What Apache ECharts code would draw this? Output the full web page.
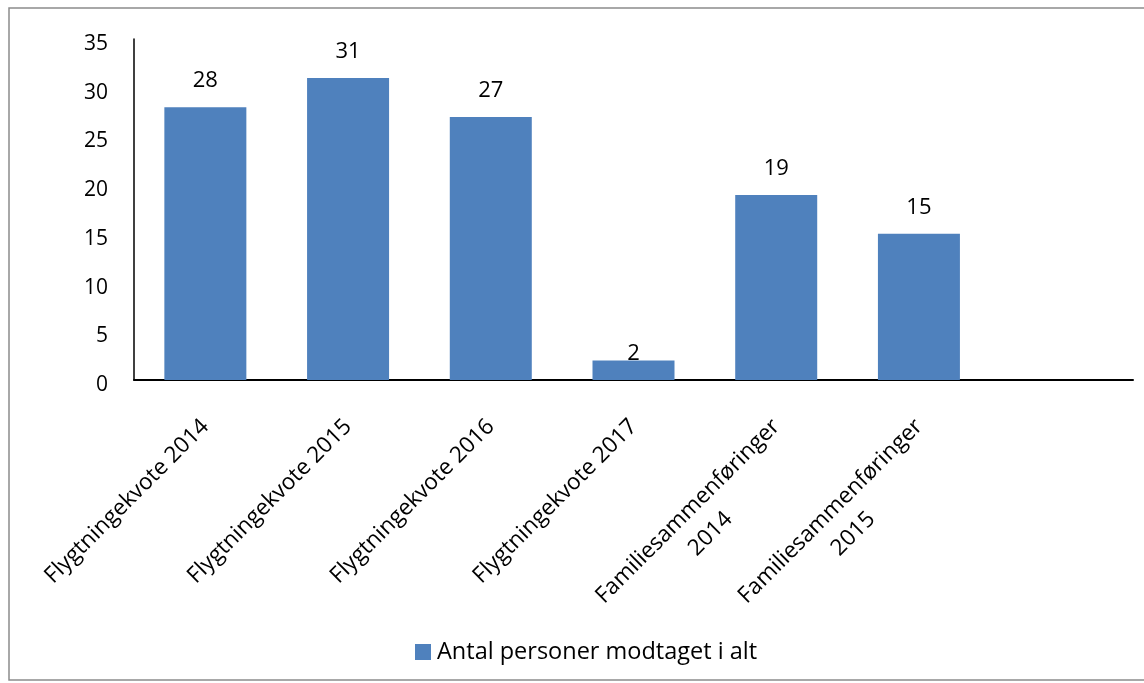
<!DOCTYPE html>
<html>
<head>
<meta charset="utf-8">
<script src="https://cdn.jsdelivr.net/npm/echarts@6/dist/echarts.min.js"></script>
<style>
html,body{margin:0;padding:0;background:#fff;}
#chart{width:1144px;height:683px;}
</style>
</head>
<body>
<div id="chart"></div>
<script>
var categories = ['Flygtningekvote 2014','Flygtningekvote 2015','Flygtningekvote 2016','Flygtningekvote 2017','Familiesammenføringer\n2014','Familiesammenføringer\n2015',''];
var values = [28, 31, 27, 2, 19, 15, null];
var yTicks = [0, 5, 10, 15, 20, 25, 30, 35];
var seriesName = 'Antal personer modtaget i alt';

var FONT = '"Open Sans", "Noto Sans", sans-serif';
var chart = echarts.init(document.getElementById('chart'));

var barData = values.map(function (v, i) {
  var item = { value: v };
  if (v !== null && v < 5) {
    item.label = { distance: -4 };
  }
  return item;
});

chart.setOption({
  animation: false,
  backgroundColor: '#fff',
  graphic: [{
    type: 'rect',
    shape: { x: 9, y: 8, width: 1200, height: 672 },
    style: { fill: 'none', stroke: '#8c8c8c', lineWidth: 1.5 },
    silent: true
  }],
  grid: { left: 134, right: 11, top: 39, bottom: 303, containLabel: false },
  legend: {
    data: [seriesName],
    left: 415, top: 640, padding: 0,
    icon: 'rect', itemWidth: 16, itemHeight: 16, itemGap: 6,
    textStyle: { fontFamily: FONT, fontSize: 23.5, color: '#000', padding: [0, 0, 0, 1] }
  },
  xAxis: {
    type: 'category',
    data: categories,
    axisLine: { lineStyle: { color: '#000', width: 2 } },
    axisTick: { show: false },
    axisLabel: {
      interval: 0,
      rotate: 45,
      margin: 43,
      fontFamily: FONT,
      fontSize: 22.5,
      color: '#000',
      lineHeight: 32,
      formatter: function (val) {
        if (val.indexOf('\n') >= 0) {
          var parts = val.split('\n');
          return '{s|}\n{c|' + parts[0] + '}\n{c|' + parts[1] + '}';
        }
        return val;
      },
      rich: {
        s: { fontSize: 22.5, lineHeight: 32 },
        c: { align: 'center', fontFamily: FONT, fontSize: 22.5, lineHeight: 32, color: '#000' }
      }
    }
  },
  yAxis: {
    type: 'value',
    min: yTicks[0],
    max: yTicks[yTicks.length - 1],
    interval: 5,
    axisLine: { show: true, lineStyle: { color: '#000', width: 1.5 } },
    axisTick: { show: false },
    splitLine: { show: false },
    axisLabel: {
      margin: 26,
      fontFamily: FONT,
      fontSize: 21,
      color: '#000',
      verticalAlign: 'top',
      lineHeight: 10
    }
  },
  series: [{
    name: seriesName,
    type: 'bar',
    data: barData,
    barWidth: 82,
    itemStyle: { color: '#4F81BD' },
    label: {
      show: true,
      position: 'top',
      distance: 15,
      fontFamily: FONT,
      fontSize: 22,
      color: '#000'
    }
  }]
});
</script>
</body>
</html>
